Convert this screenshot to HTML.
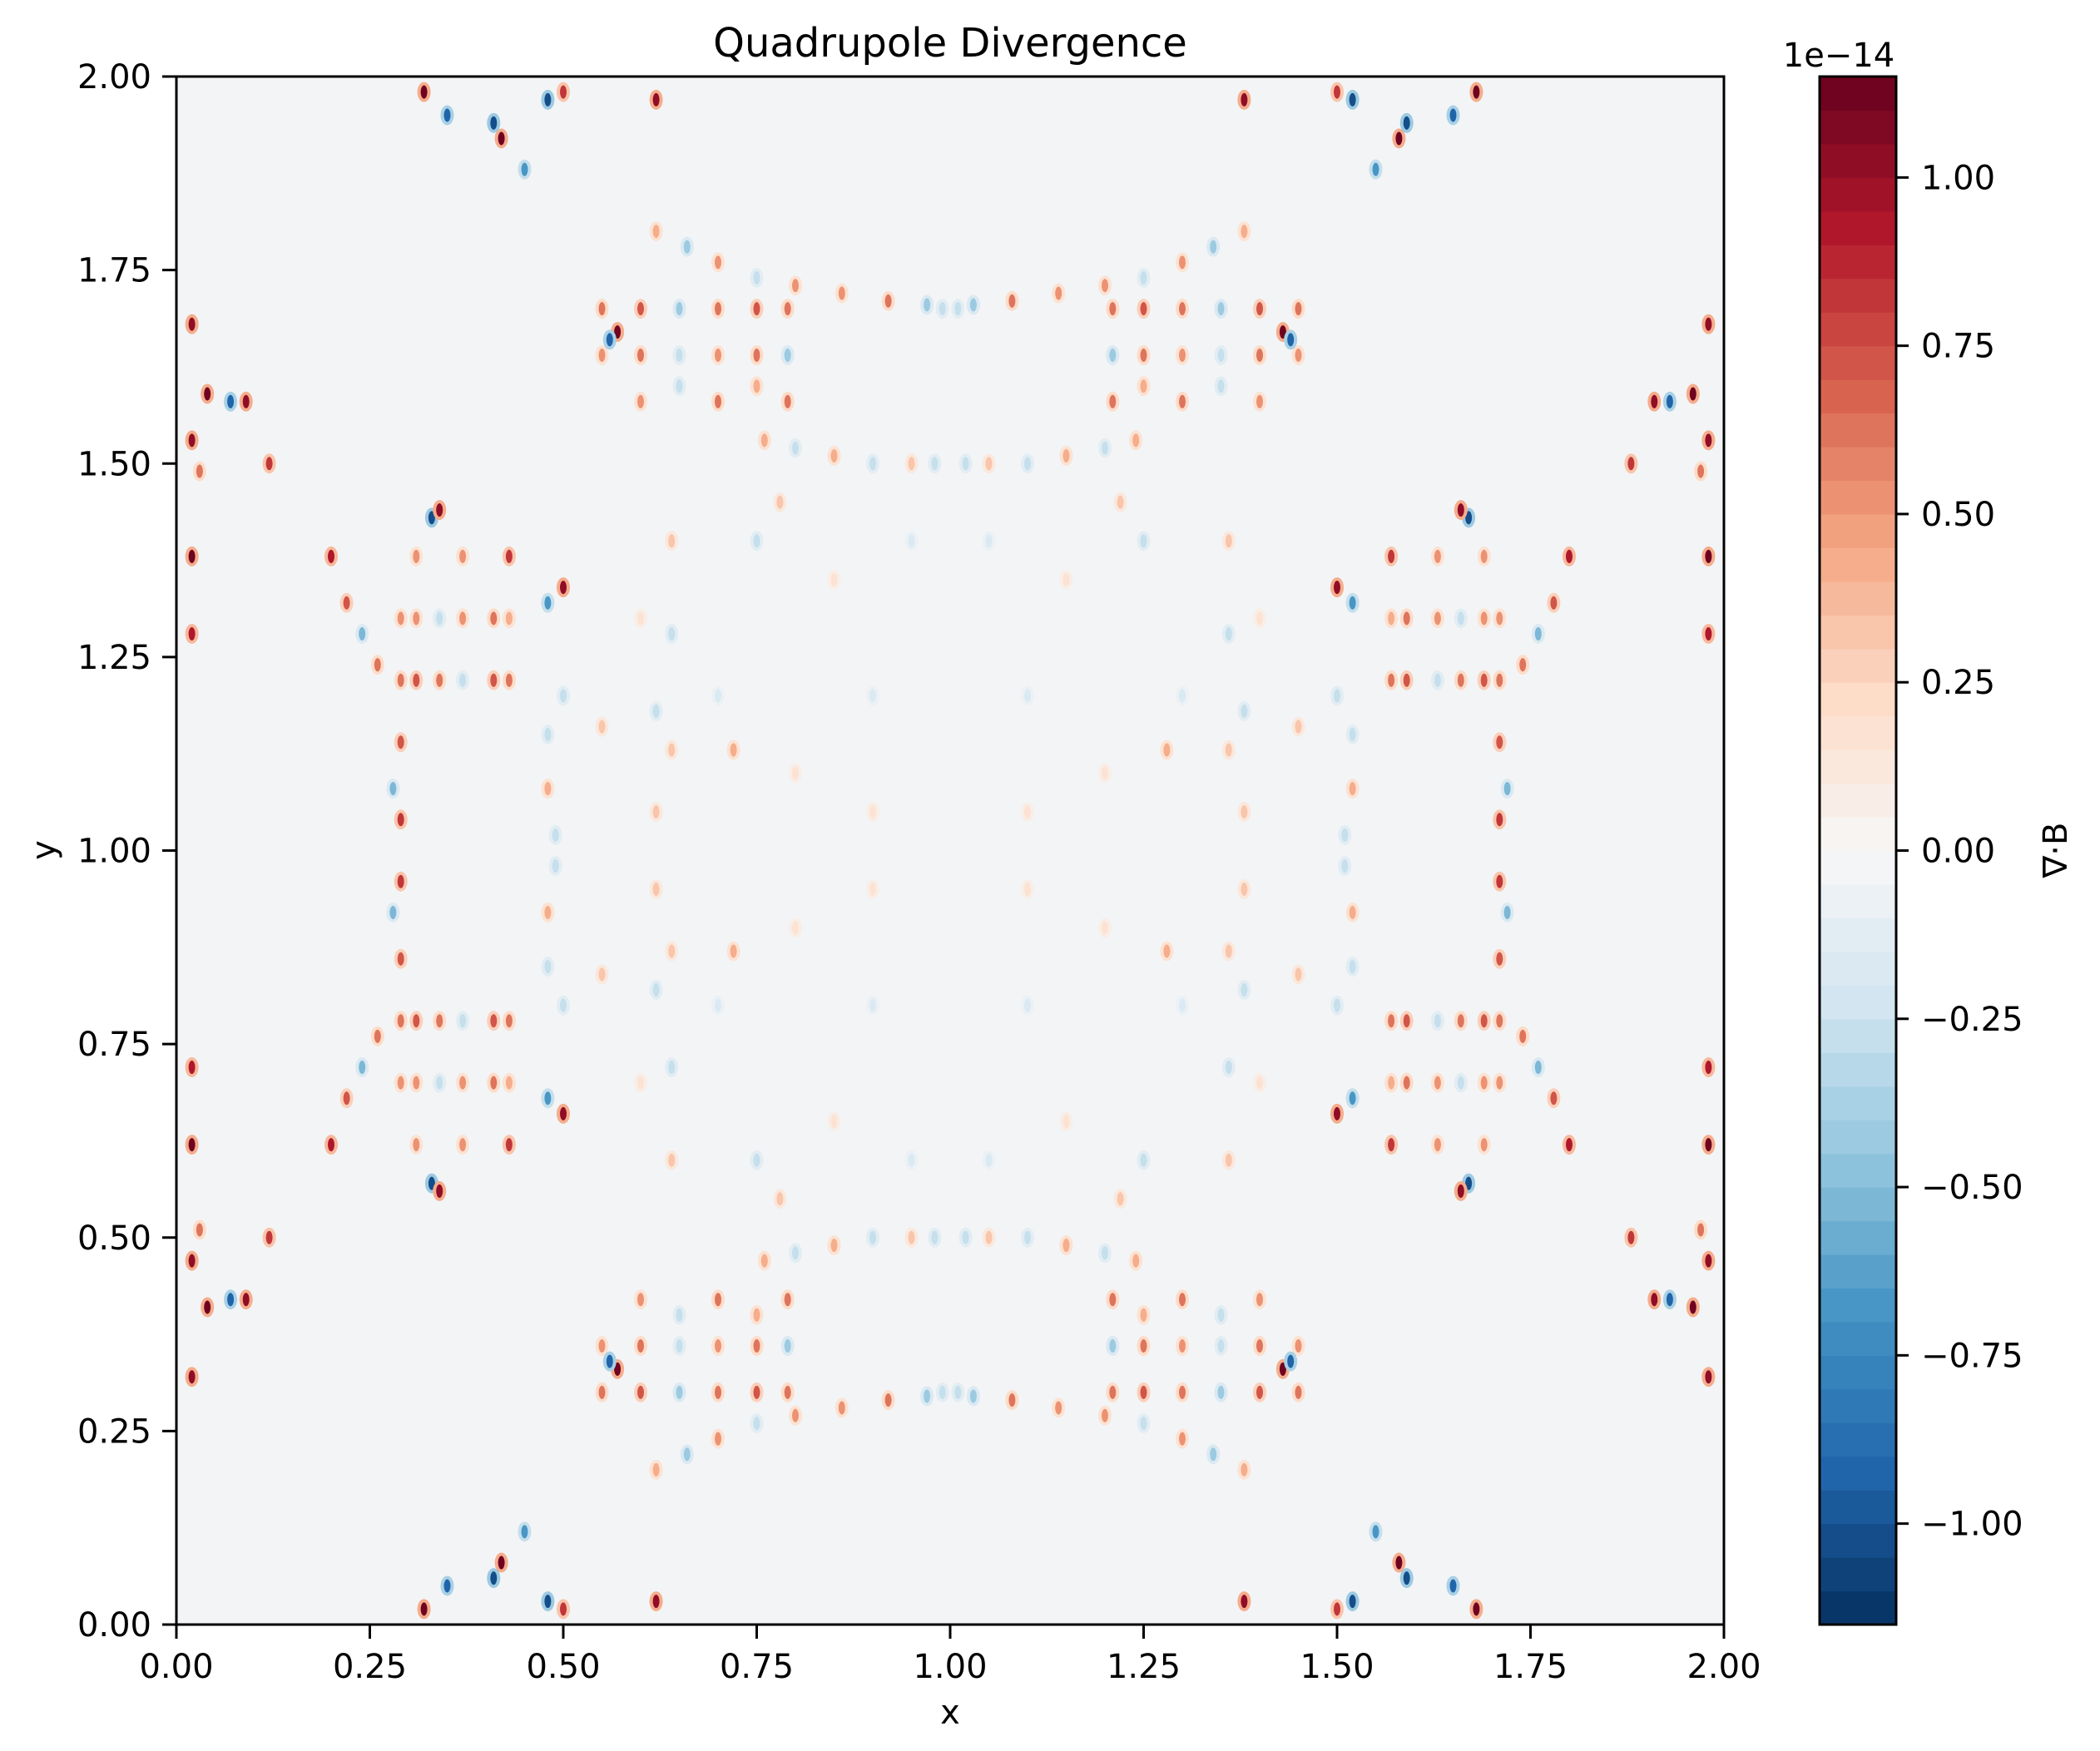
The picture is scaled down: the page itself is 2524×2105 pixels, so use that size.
<!DOCTYPE html>
<html><head><meta charset="utf-8"><style>
body{margin:0;background:#fff;}
svg text{font-family:"DejaVu Sans","Liberation Sans",sans-serif;fill:#000;}
</style></head><body>
<svg id="chart" width="2524" height="2100" viewBox="0 0 2524 2100" xmlns="http://www.w3.org/2000/svg">
<rect width="2524" height="2100" fill="#fff"/>
<text x="1142" y="68" font-size="48" text-anchor="middle">Quadrupole Divergence</text>
<g id="plot"></g>
<g id="axes"></g>
<g id="cbar"></g>
<text x="1142" y="2072" font-size="40" text-anchor="middle">x</text>
<text transform="translate(66,1022) rotate(-90)" font-size="40" text-anchor="middle">y</text>
<text transform="translate(2484,1022) rotate(-90)" font-size="40" text-anchor="middle">∇·B</text>
<text x="2210" y="80" font-size="40" text-anchor="middle">1e−14</text>
</svg>
<script>
const xTicks=[0,0.25,0.5,0.75,1.0,1.25,1.5,1.75,2.0];
const yTicks=[0,0.25,0.5,0.75,1.0,1.25,1.5,1.75,2.0];
const cbTicks=[-1.0,-0.75,-0.5,-0.25,0,0.25,0.5,0.75,1.0];
const vMin=-1.15, vMax=1.15, nLevels=46;
// features in lower-left quadrant (mirrored by symmetry)
const markX=[0.62,0.66,0.70,0.75,0.80,0.86,0.92,0.97,0.99, 0.76,0.80,0.85,0.90,0.95,0.98,
 0.55,0.60,0.65,0.70,0.75,0.79,0.55,0.60,0.65,0.70,0.75,0.79,0.60,0.70,0.79,0.65,0.75,
 0.57,0.56,0.62,0.42,0.41,0.32,0.35,0.48,0.50,0.45,
 0.02,0.04,0.07,0.09,0.03,0.02,0.02,0.02,0.12,
 0.20,0.22,0.24,0.26,0.29,0.29,0.28,
 0.29,0.31,0.34,0.37,0.41,0.43,0.29,0.31,0.34,0.37,0.41,0.43,0.31,0.37,0.43,0.33,0.34,
 0.48,0.48,0.49,0.50,0.50,0.48,
 0.60,0.70,0.80,0.90,0.64,0.55,0.62,0.72,0.62,0.90,0.85,0.75,0.78,0.95,0.64,0.64];
const markY=[0.20,0.22,0.24,0.26,0.27,0.28,0.29,0.295,0.30, 0.47,0.48,0.49,0.50,0.50,0.50,
 0.30,0.30,0.30,0.30,0.30,0.30,0.36,0.36,0.36,0.36,0.36,0.36,0.42,0.42,0.42,0.40,0.40,
 0.33,0.34,0.03,0.08,0.06,0.02,0.05,0.03,0.02,0.12,
 0.32,0.41,0.42,0.42,0.51,0.62,0.72,0.47,0.50,
 0.62,0.68,0.72,0.76,0.86,0.96,0.92,
 0.78,0.78,0.78,0.78,0.78,0.78,0.70,0.70,0.70,0.70,0.70,0.70,0.62,0.62,0.62,0.57,0.56,
 0.85,0.92,0.98,0.80,0.66,0.68,
 0.70,0.80,0.90,0.80,0.87,0.84,0.82,0.87,0.95,0.95,0.65,0.60,0.55,0.60,0.60,0.72];
const markV=[0.4,-0.4,0.5,-0.3,0.5,0.5,0.6,-0.4,-0.3, 0.4,-0.3,0.4,-0.3,0.3,-0.3,
 0.6,0.7,-0.4,0.6,0.7,0.6,0.5,0.6,-0.3,0.5,0.6,-0.4,0.5,0.6,0.6,-0.3,0.4,
 1.1,-0.9,1.0,1.1,-1.0,1.1,-0.9,-1.0,0.8,-0.7,
 1.0,1.1,-0.9,1.0,0.6,1.1,0.9,1.0,0.8,
 0.9,0.7,-0.5,0.6,0.7,0.8,-0.5,
 0.6,0.7,0.6,-0.3,0.7,0.6,0.5,0.5,-0.3,0.5,0.6,0.4,0.5,0.5,0.8,-1.0,1.0,
 -0.3,0.4,-0.3,-0.3,1.0,-0.7,
 0.2,-0.2,0.2,-0.2,0.3,0.3,-0.3,0.4,0.3,0.2,0.2,-0.3,0.3,-0.2,0.3,-0.3];

const L=212,R=2072,T=92,B=1953;
const sx=v=>L+(v-0)/(2-0)*(R-L);
const sy=v=>B-(v-0)/(2-0)*(B-T);
const NS="http://www.w3.org/2000/svg";
const stops=["#053061","#2166ac","#4393c3","#92c5de","#d1e5f0","#f7f7f7","#fddbc7","#f4a582","#d6604d","#b2182b","#67001f"];
function hex(h){return [1,3,5].map(i=>parseInt(h.substr(i,2),16));}
function cmap(v){
  let t=(v-vMin)/(vMax-vMin);t=Math.max(0,Math.min(1,t));
  t=(Math.min(nLevels-1,Math.floor(t*nLevels))+0.5)/nLevels;
  const p=t*(stops.length-1),i=Math.min(stops.length-2,Math.floor(p)),f=p-i;
  const a=hex(stops[i]),b=hex(stops[i+1]);
  return "rgb("+a.map((c,k)=>Math.round(c+(b[k]-c)*f)).join(",")+")";
}
function mk(tag,attrs,parent){const e=document.createElementNS(NS,tag);for(const k in attrs)e.setAttribute(k,attrs[k]);parent.appendChild(e);return e;}
const plot=document.getElementById('plot');
const bg=mk('rect',{x:L,y:T,width:R-L,height:B-T,fill:"#f3f4f6"},plot);


for(let i=0;i<markX.length;i++){
  const pts=[[markX[i],markY[i]],[2-markX[i],markY[i]],[markX[i],2-markY[i]],[2-markX[i],2-markY[i]]];
  for(const [x,y] of pts){
    const g=mk('g',{},plot);
    
    
    mk('ellipse',{cx:sx(x),cy:sy(y),rx:8,ry:12,fill:cmap(markV[i]*0.4)},g);
    mk('ellipse',{cx:sx(x),cy:sy(y),rx:4,ry:8,fill:cmap(markV[i])},g);
  }
}
const ax=document.getElementById('axes');
mk('rect',{x:L,y:T,width:R-L,height:B-T,fill:"none",stroke:"#000","stroke-width":3}, ax);
xTicks.forEach(v=>{
  mk('line',{x1:sx(v),x2:sx(v),y1:B,y2:B+17,stroke:"#000","stroke-width":3},ax);
  const t=mk('text',{x:sx(v),y:B+64,"font-size":40,"text-anchor":"middle"},ax);
  t.textContent=v.toFixed(2);
  
  
});
yTicks.forEach(v=>{
  mk('line',{x1:L-17,x2:L,y1:sy(v),y2:sy(v),stroke:"#000","stroke-width":3},ax);
  const t=mk('text',{x:L-30,y:sy(v)+14,"font-size":40,"text-anchor":"end"},ax);
  t.textContent=v.toFixed(2);
  
  
});
const cb=document.getElementById('cbar');
const CL=2187,CR=2279;
const cy=v=>B-(v-vMin)/(vMax-vMin)*(B-T);
for(let k=0;k<nLevels;k++){
  const v0=vMin+k*(vMax-vMin)/nLevels,v1=vMin+(k+1)*(vMax-vMin)/nLevels;
  const r=mk('rect',{x:CL,y:cy(v1),width:CR-CL,height:cy(v0)-cy(v1)+0.6,fill:cmap((v0+v1)/2)},cb);
  
  
}
mk('rect',{x:CL,y:T,width:CR-CL,height:B-T,fill:"none",stroke:"#000","stroke-width":3},cb);
cbTicks.forEach(v=>{
  mk('line',{x1:CR,x2:CR+15,y1:cy(v),y2:cy(v),stroke:"#000","stroke-width":3},cb);
  const t=mk('text',{x:CR+30,y:cy(v)+14,"font-size":40},cb);
  t.textContent=(v<0?"−":"")+Math.abs(v).toFixed(2);
  
  
});
</script>
</body></html>
